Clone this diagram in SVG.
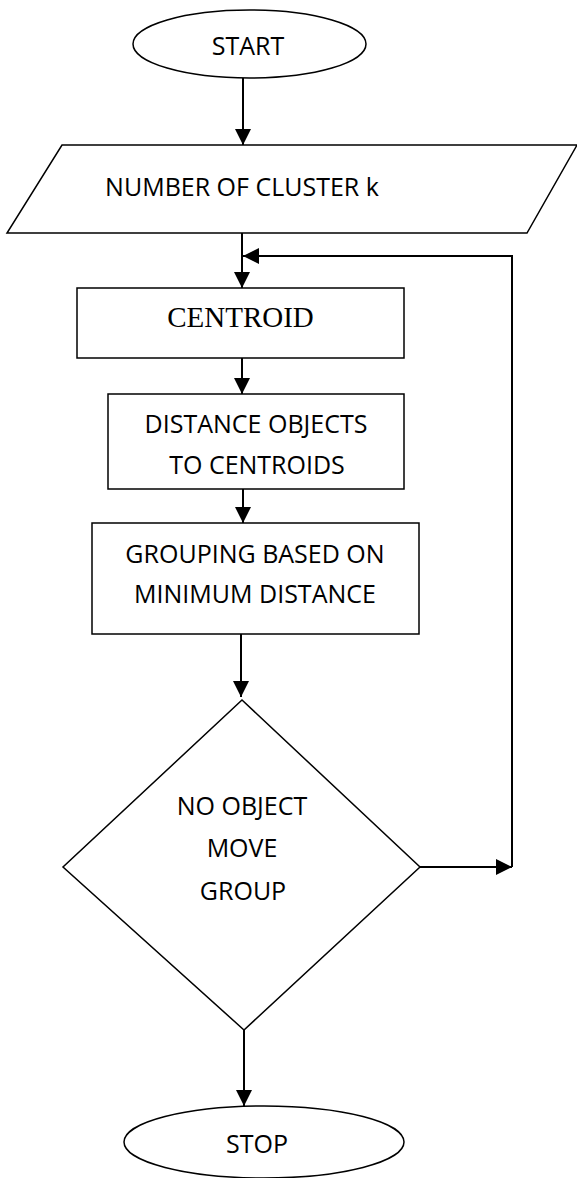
<svg xmlns="http://www.w3.org/2000/svg" width="577" height="1178" viewBox="0 0 577 1178">
  <style>
    .shape { fill: #fff; stroke: #000; stroke-width: 1.5; }
    .conn { fill: none; stroke: #000; stroke-width: 2; }
    .lbl { font-family: "Open Sans", "Liberation Sans", sans-serif; font-size: 25px; fill: #000; text-anchor: middle; }
    .serif { font-family: "Liberation Serif", "Times New Roman", serif; font-size: 29px; fill: #000; text-anchor: middle; }
  </style>
  <defs>
    <marker id="arrow" markerUnits="userSpaceOnUse" markerWidth="16" markerHeight="16" viewBox="0 0 16 16" refX="16" refY="8" orient="auto">
      <path d="M0,0 L16,8 L0,16 Z" fill="#000"/>
    </marker>
  </defs>
  <rect width="577" height="1178" fill="#fff"/>

  <!-- connectors -->
  <g id="connectors">
    <line class="conn" x1="243" y1="78" x2="243" y2="145" marker-end="url(#arrow)"/>
    <line class="conn" x1="242" y1="233" x2="242" y2="288" marker-end="url(#arrow)"/>
    <line class="conn" x1="242" y1="358" x2="242" y2="394" marker-end="url(#arrow)"/>
    <line class="conn" x1="243" y1="489" x2="243" y2="523" marker-end="url(#arrow)"/>
    <line class="conn" x1="241" y1="634" x2="241" y2="697" marker-end="url(#arrow)"/>
    <line class="conn" x1="420" y1="867" x2="512" y2="867" marker-end="url(#arrow)"/>
    <polyline class="conn" points="512,867 512,256 243,256" marker-end="url(#arrow)"/>
    <line class="conn" x1="244" y1="1030" x2="244" y2="1106" marker-end="url(#arrow)"/>
  </g>

  <g id="start">
    <ellipse class="shape" cx="249.5" cy="44" rx="116.5" ry="34"/>
    <text class="lbl" x="248" y="55">START</text>
  </g>

  <g id="input-k">
    <polygon class="shape" points="62,145 577,145 527,233 7,233"/>
    <text class="lbl" x="242" y="196">NUMBER OF CLUSTER k</text>
  </g>

  <g id="centroid">
    <rect class="shape" x="77" y="288" width="327" height="70"/>
    <text class="serif" x="240.5" y="327">CENTROID</text>
  </g>

  <g id="distance">
    <rect class="shape" x="108" y="394" width="296" height="95"/>
    <text class="lbl" x="256" y="433">DISTANCE OBJECTS</text>
    <text class="lbl" x="257" y="474">TO CENTROIDS</text>
  </g>

  <g id="grouping">
    <rect class="shape" x="92" y="523" width="327" height="111"/>
    <text class="lbl" x="255" y="563">GROUPING BASED ON</text>
    <text class="lbl" x="255" y="603">MINIMUM DISTANCE</text>
  </g>

  <g id="decision">
    <polygon class="shape" points="242,700 420,867 244,1030 63,867"/>
    <text class="lbl" x="242" y="815">NO OBJECT</text>
    <text class="lbl" x="242" y="857">MOVE</text>
    <text class="lbl" x="243" y="900">GROUP</text>
  </g>

  <g id="stop">
    <ellipse class="shape" cx="264" cy="1142" rx="140" ry="36"/>
    <text class="lbl" x="257" y="1153">STOP</text>
  </g>
</svg>
